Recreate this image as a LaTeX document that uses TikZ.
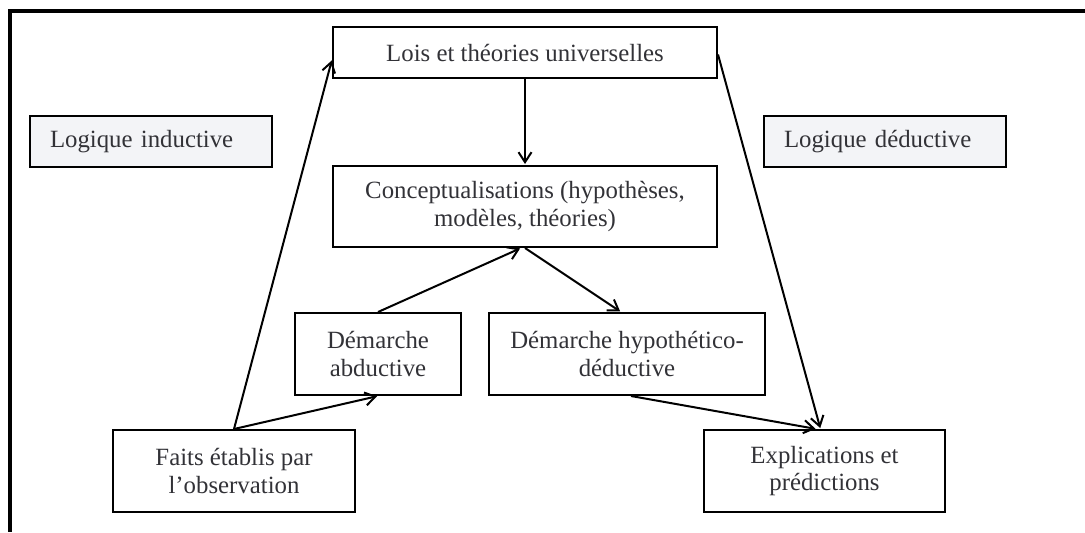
\documentclass[tikz,border=0pt]{standalone}
\usepackage{fontspec}
\setmainfont{Liberation Serif}
\usepackage{tikz}
\usetikzlibrary{arrows.meta}
\usetikzlibrary{shapes}
\definecolor{logicfill}{RGB}{243,244,247}
\definecolor{textgray}{RGB}{50,50,55}

\begin{document}
\begin{tikzpicture}[x=0.5pt,y=-0.5pt]
\tikzset{font=\fontsize{12.4}{13.8}\selectfont}
\tikzset{>={Straight Barb[length=5pt,width=6.5pt]}}
\tikzset{box/.style={draw, line width=1pt, inner sep=0pt, align=center, text=textgray}}
\tikzset{logicbox/.style={box, fill=logicfill, minimum width=121pt, minimum height=25.5pt, text width=101pt, align=left}}
\tikzset{link/.style={->, line width=1pt, shorten >=0.5pt}}
\useasboundingbox (0,0) rectangle (1085,532);
\draw[line width=2pt] (1085,11) -- (10,11) -- (10,532);
\node[box, minimum width=192pt, minimum height=25.5pt] (lois) at (525,52.5) {Lois et théories universelles};
\node[logicbox] (inductive) at (151,141.5) {Logique inductive};
\node[logicbox] (deductive) at (885,141.5) {Logique déductive};
\node[box, minimum width=192pt, minimum height=40.5pt] (concept) at (525,206.5) {Conceptualisations (hypothèses,\\ modèles, théories)};
\node[box, minimum width=83pt, minimum height=41pt] (abduct) at (378,354) {Démarche\\ abductive};
\node[box, minimum width=138pt, minimum height=41pt] (hypo) at (627,354) {Démarche hypothético-\\ déductive};
\node[box, minimum width=121pt, minimum height=41pt] (faits) at (234,471) {Faits établis par\\ l'observation};
\node[box, minimum width=120.5pt, minimum height=41pt] (explic) at (824.5,471) {Explications et\\ prédictions};
\draw[link] (lois.south) -- (concept.north);
\draw[link] (faits.north) -- ([yshift=-3.5pt]lois.west);
\draw[link] ([yshift=-1pt]lois.east) -- ([xshift=-2pt]explic.north);
\draw[link] (faits.north) -- (abduct.south);
\draw[link] (abduct.north) -- ([xshift=-2pt]concept.south);
\draw[link] (concept.south) -- ([xshift=-3pt]hypo.north);
\draw[link] ([xshift=2pt]hypo.south) -- ([xshift=-4pt]explic.north);
\end{tikzpicture}
\end{document}
